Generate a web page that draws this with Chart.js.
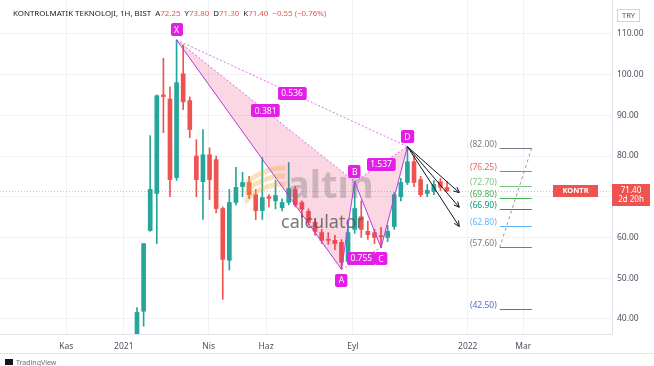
<!DOCTYPE html>
<html>
<head>
<meta charset="utf-8">
<script src="https://cdn.jsdelivr.net/npm/chart.js@4.4.1/dist/chart.umd.min.js"></script>
<style>
    html, body { margin: 0; padding: 0; background: #ffffff; }
    #wrap { width: 654px; height: 366px; position: relative; }
</style>
</head>
<body>
<div id="wrap"><canvas id="chart"></canvas></div>
<script>
// weekly candles, first week of trading
const firstWeek = "2021-01-15";

const opens  = [36.2, 41.9, 61.7, 70.8, 95.0, 94.0, 74.7, 100.2, 93.6, 80.0, 73.7, 80.3, 79.1, 67.1, 54.4, 68.6,
                72.5, 73.5, 70.5, 66.6, 70.0, 69.0, 67.3, 68.6, 71.8, 68.6, 66.4, 63.7, 61.2, 59.5, 59.3, 58.8,
                54.1, 62.0, 65.1, 61.5, 61.2, 60.3, 60.0, 62.7, 70.0, 73.5, 78.6, 74.2, 70.8, 71.3, 73.7, 72.25];
const highs  = [42.8, 58.5, 85.0, 95.0, 104.0, 97.0, 108.5, 107.3, 94.5, 84.0, 86.5, 82.0, 80.0, 67.5, 71.8, 77.2,
                76.0, 75.0, 71.8, 79.6, 70.5, 74.0, 69.5, 78.4, 72.5, 69.0, 67.0, 64.5, 62.0, 61.2, 60.5, 59.5,
                63.0, 73.7, 69.0, 64.0, 62.0, 62.5, 63.0, 71.0, 74.5, 82.3, 80.0, 75.0, 73.0, 74.0, 74.5, 73.8];
const lows   = [35.5, 38.2, 61.5, 58.5, 85.7, 70.0, 74.0, 91.4, 84.5, 70.0, 64.4, 69.3, 66.0, 44.8, 52.0, 68.0,
                70.0, 69.5, 64.4, 64.4, 67.5, 67.0, 66.5, 68.0, 67.5, 65.0, 63.0, 60.5, 58.5, 58.3, 57.0, 52.2,
                53.5, 61.0, 60.0, 59.5, 58.5, 57.5, 59.0, 62.0, 69.0, 73.0, 72.5, 70.0, 70.0, 70.5, 71.5, 71.3];
const closes = [41.6, 58.5, 71.8, 94.8, 94.6, 74.2, 98.0, 93.3, 86.5, 74.2, 80.3, 74.2, 67.1, 54.6, 68.6, 72.3,
                73.5, 70.5, 66.6, 69.8, 69.6, 70.3, 68.6, 72.0, 68.0, 66.9, 63.7, 61.5, 59.3, 59.3, 58.5, 53.9,
                61.2, 67.1, 62.0, 60.7, 60.0, 60.2, 61.5, 70.5, 73.5, 78.6, 73.5, 70.5, 71.6, 73.0, 72.3, 71.4];

const tickLabels = ["Kas", "2021", "Nis", "Haz", "Eyl", "2022", "Mar"];
const tickDates = ["2020-11-01", "2021-01-01", "2021-04-01", "2021-06-01", "2021-09-01", "2022-01-01", "2022-03-01"];
const priceTicks = [40, 50, 60, 70, 80, 90, 100, 110];

// XABCD pattern: which candle, and the price
const patternLabels = ["X", "A", "B", "C", "D"];
const patternBars = [6, 31, 33, 37, 41];
const patternValues = [108.5, 52.2, 73.7, 57.5, 82.3];
const ratioLabels = ["0.381", "0.536", "0.755", "1.537"];   // XB, XD, AC, BD

const fibLevels = [82.00, 76.25, 72.70, 69.80, 66.90, 62.80, 57.60, 42.50];
const arrowTargets = [71.0, 67.4, 62.7];

const fibColors = ["#787b86", "#e06666", "#81c784", "#4caf50", "#089981", "#64b5f6", "#787b86", "#5c6bc0"];
const UP = "#26a69a";
const DOWN = "#ef5350";
const MAGENTA = "#e31ee6";
const FONT = "'Noto Sans', sans-serif";

const dayOf = s => (Date.parse(s) - Date.parse("2021-01-01")) / 864e5;
const startDay = dayOf(firstWeek);
const barDays = opens.map((_, i) => startDay + 7 * i);
const colors = opens.map((o, i) => closes[i] >= o ? UP : DOWN);
const tickDays = tickDates.map(dayOf);
const lastDay = barDays[barDays.length - 1];

const overlay = {
    id: "overlay",

    beforeDraw(chart) {
        const ctx = chart.ctx;
        ctx.save();
        ctx.fillStyle = "#ffffff";
        ctx.fillRect(0, 0, chart.width, chart.height);
        ctx.restore();
    },

    afterDatasetsDraw(chart) {
        const { ctx, chartArea: a } = chart;
        const xs = chart.scales.x, ys = chart.scales.y;
        const px = d => xs.getPixelForValue(d);
        const py = v => ys.getPixelForValue(v);
        const last = closes[closes.length - 1];

        ctx.save();

        // last price line
        ctx.strokeStyle = "rgba(239,83,80,0.45)";
        ctx.lineWidth = 1;
        ctx.setLineDash([1, 2]);
        ctx.beginPath();
        ctx.moveTo(a.left, Math.round(py(last)) + 0.5);
        ctx.lineTo(a.right, Math.round(py(last)) + 0.5);
        ctx.stroke();
        ctx.setLineDash([]);

        // pattern fills
        const pts = patternBars.map((b, i) => ({ x: px(barDays[b]), y: py(patternValues[i]) }));
        ctx.fillStyle = "rgba(233,30,99,0.18)";
        [[0, 1, 2], [2, 3, 4]].forEach(t => {
            ctx.beginPath();
            ctx.moveTo(pts[t[0]].x, pts[t[0]].y);
            ctx.lineTo(pts[t[1]].x, pts[t[1]].y);
            ctx.lineTo(pts[t[2]].x, pts[t[2]].y);
            ctx.closePath();
            ctx.fill();
        });

        // watermark
        ctx.strokeStyle = "rgba(240,170,50,0.35)";
        ctx.lineWidth = 5;
        for (let k = 0; k < 3; k++) {
            ctx.beginPath();
            ctx.ellipse(268, 178 + k * 8, 22, 7, -0.35, Math.PI * 0.95, Math.PI * 1.85);
            ctx.stroke();
        }
        ctx.lineWidth = 1;
        ctx.fillStyle = "rgba(120,120,120,0.36)";
        ctx.font = "bold 38px " + FONT;
        ctx.textAlign = "left";
        ctx.textBaseline = "alphabetic";
        ctx.fillText("altın", 287, 198);
        ctx.fillStyle = "rgba(85,85,85,0.8)";
        ctx.font = "18px " + FONT;
        ctx.fillText("calculator", 281, 228);

        const pairs = [[0, 2], [0, 4], [1, 3], [2, 4]];
        ctx.strokeStyle = "rgba(220,60,230,0.75)";
        ctx.setLineDash([2, 2]);
        pairs.forEach(p => {
            ctx.beginPath();
            ctx.moveTo(pts[p[0]].x, pts[p[0]].y);
            ctx.lineTo(pts[p[1]].x, pts[p[1]].y);
            ctx.stroke();
        });
        ctx.setLineDash([]);

        ctx.strokeStyle = "#b43ce0";
        ctx.beginPath();
        pts.forEach((p, i) => i ? ctx.lineTo(p.x, p.y) : ctx.moveTo(p.x, p.y));
        ctx.stroke();

        // arrows from D
        const d = pts[4];
        ctx.strokeStyle = "#131722";
        arrowTargets.forEach(v => {
            const ex = px(lastDay + 13), ey = py(v);
            const ang = Math.atan2(ey - d.y, ex - d.x);
            ctx.beginPath();
            ctx.moveTo(d.x, d.y);
            ctx.lineTo(ex, ey);
            ctx.moveTo(ex - 6 * Math.cos(ang - 0.45), ey - 6 * Math.sin(ang - 0.45));
            ctx.lineTo(ex, ey);
            ctx.lineTo(ex - 6 * Math.cos(ang + 0.45), ey - 6 * Math.sin(ang + 0.45));
            ctx.stroke();
        });

        const tag = (text, cx, cy) => {
            ctx.font = "8.5px " + FONT;
            const w = Math.max(12, ctx.measureText(text).width + 7);
            const h = 13;
            ctx.fillStyle = MAGENTA;
            ctx.beginPath();
            ctx.roundRect(Math.round(cx - w / 2), Math.round(cy - h / 2), w, h, 2);
            ctx.fill();
            ctx.fillStyle = "#ffffff";
            ctx.textAlign = "center";
            ctx.textBaseline = "middle";
            ctx.fillText(text, cx, cy + 0.5);
        };

        pairs.forEach((p, i) => {
            tag(ratioLabels[i], (pts[p[0]].x + pts[p[1]].x) / 2, (pts[p[0]].y + pts[p[1]].y) / 2);
        });
        pts.forEach((p, i) => {
            const high = i % 2 === 0;
            tag(patternLabels[i], p.x, high ? p.y - 10 : p.y + 11);
        });

        // projection levels
        const f0 = px(lastDay + 56), f1 = px(lastDay + 90);
        ctx.font = "8.5px " + FONT;
        ctx.textAlign = "right";
        ctx.textBaseline = "middle";
        fibLevels.forEach((v, i) => {
            const yy = Math.round(py(v)) + 0.5;
            ctx.strokeStyle = fibColors[i];
            ctx.beginPath();
            ctx.moveTo(f0, yy);
            ctx.lineTo(f1, yy);
            ctx.stroke();
            ctx.fillStyle = fibColors[i];
            ctx.fillText("(" + v.toFixed(2) + ")", f0 - 3, yy - 4);
        });
        ctx.strokeStyle = "#9598a1";
        ctx.setLineDash([3, 3]);
        ctx.beginPath();
        ctx.moveTo(f1, py(fibLevels[0]));
        ctx.lineTo(f0, py(fibLevels[6]));
        ctx.stroke();
        ctx.setLineDash([]);

        // title
        const parts = [
            ["KONTROLMATIK TEKNOLOJI, 1H, BIST  ", "#131722"],
            ["A", "#131722"], [opens[opens.length - 1].toFixed(2) + "  ", DOWN],
            ["Y", "#131722"], [highs[highs.length - 1].toFixed(2) + "  ", DOWN],
            ["D", "#131722"], [lows[lows.length - 1].toFixed(2) + "  ", DOWN],
            ["K", "#131722"], [last.toFixed(2) + "  ", DOWN],
            ["\u22120.55 (\u22120.76%)", DOWN]
        ];
        ctx.font = "7.9px " + FONT;
        ctx.textAlign = "left";
        ctx.textBaseline = "middle";
        let tx = 13;
        parts.forEach(p => {
            ctx.fillStyle = p[1];
            ctx.fillText(p[0], tx, 14);
            tx += ctx.measureText(p[0]).width;
        });

        // currency box
        ctx.strokeStyle = "#d1d4dc";
        ctx.strokeRect(617.5, 9.5, 22, 12);
        ctx.fillStyle = "#4c525e";
        ctx.font = "7.5px " + FONT;
        ctx.textAlign = "center";
        ctx.fillText("TRY", 628.5, 15.5);

        // last price labels
        const ly = py(last);
        ctx.fillStyle = DOWN;
        ctx.fillRect(a.right, Math.round(ly) - 7, 38, 22);
        ctx.fillRect(553, Math.round(ly) - 6, 45, 12);
        ctx.fillStyle = "#ffffff";
        ctx.font = "bold 7.5px " + FONT;
        ctx.fillText("KONTR", 575.5, ly);
        ctx.font = "8px " + FONT;
        ctx.fillText(last.toFixed(2), a.right + 19, ly - 0.5);
        ctx.fillText("2d 20h", a.right + 19, ly + 9);

        // footer
        ctx.strokeStyle = "#e0e3eb";
        ctx.beginPath();
        ctx.moveTo(0, 353.5);
        ctx.lineTo(654, 353.5);
        ctx.stroke();
        ctx.fillStyle = "#131722";
        ctx.fillRect(5, 359, 8, 6);
        ctx.font = "7px " + FONT;
        ctx.textAlign = "left";
        ctx.fillStyle = "#6a6d78";
        ctx.fillText("TradingView", 16, 362.5);

        ctx.restore();
    }
};

new Chart(document.getElementById("chart"), {
    type: "bar",

    data: {
        datasets: [
            {
                label: "wicks",
                data: barDays.map((d, i) => ({ x: d, y: [lows[i], highs[i]] })),
                backgroundColor: colors,
                barThickness: 1,
                grouped: false,
                order: 2
            },
            {
                label: "bodies",
                data: barDays.map((d, i) => ({ x: d, y: [opens[i], closes[i]] })),
                backgroundColor: colors,
                barThickness: 4,
                minBarLength: 1,
                grouped: false,
                order: 1
            }
        ]
    },

    options: {
        responsive: true,
        maintainAspectRatio: false,
        animation: false,
        layout: { padding: 0 },

        plugins: {
            legend: { display: false },
            tooltip: { enabled: false }
        },

        scales: {
            x: {
                type: "linear",
                position: "bottom",
                min: -131.4,
                max: 518.1,
                offset: false,
                afterBuildTicks: s => { s.ticks = tickDays.map(v => ({ value: v })); },
                afterFit: s => { s.height = 32; s.paddingLeft = 0; s.paddingRight = 0; },
                grid: { color: "#f0f2f6", drawTicks: false, offset: false },
                border: { display: true, color: "#e0e3eb" },
                ticks: {
                    autoSkip: false,
                    maxRotation: 0,
                    padding: 7,
                    color: "#4c525e",
                    font: { family: FONT, size: 8.5 },
                    callback: (v, i) => tickLabels[i]
                }
            },

            y: {
                type: "linear",
                position: "right",
                min: 36.3,
                max: 118.3,
                afterBuildTicks: s => { s.ticks = priceTicks.map(v => ({ value: v })); },
                afterFit: s => { s.width = 42; s.paddingTop = 0; s.paddingBottom = 0; },
                grid: { color: "#f0f2f6", drawTicks: false },
                border: { display: true, color: "#e0e3eb" },
                ticks: {
                    padding: 5,
                    color: "#4c525e",
                    font: { family: FONT, size: 8.5 },
                    callback: v => Number(v).toFixed(2)
                }
            }
        }
    },

    plugins: [overlay]
});
</script>
</body>
</html>
